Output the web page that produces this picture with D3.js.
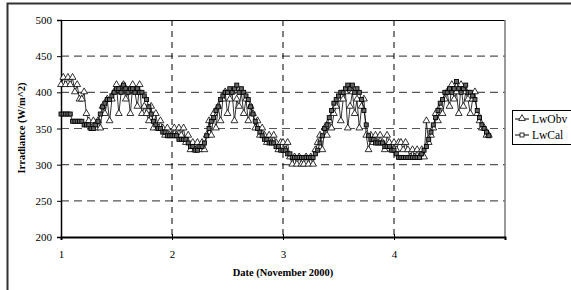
<!DOCTYPE html>
<html><head><meta charset="utf-8">
<script src="https://cdn.jsdelivr.net/npm/d3@7"></script>
<style>body{margin:0;background:#fff}svg{display:block}</style>
</head><body>
<svg id="c" width="571" height="290"></svg>
<script>
// Sampling: readings every 30 minutes starting on day 1
const startDay = 1;
const samplesPerDay = 48;
const seriesNames = ["LwObv", "LwCal"];
const xTicks = [1, 2, 3, 4];
const yTicks = [200, 250, 300, 350, 400, 450, 500];
const lwObv = [
 410,420,410,420,410,420,400,410, 390,390,400,370, 360,350,360,350,360,350, 380,370,390,360,390,400,
 410,370,400,410,390,400,370,410,400,380,410,370, 380,370,360,380,350,370, 350,360,350,340,350,340,
 340,350,340,350,340,350,330,340, 320,330,320,330,320,330,320, 340,360,340,370,350,380,360,390,
 400,370,390,400,360,390,380,400,370,390,360,380, 370,350,360,340,350,340, 330,340,330,340,330,320,330,
 330,320,330,310, 300,310,300,310,300,300,310,300,310,300,320, 330,340,320,350,340,360,350,370,380,
 390,360,390,400,350,380,400,370,390,350,380,390, 340,320,340,330, 340,330,340,330,320,340,330,320,
 330,320,330,330,320,330,320,310, 320,310,320,310,320,310,360,330, 340,350,370,360,380,370,390,400,
 380,410,390,400,370,410,380,400,390,370,390,400, 370,360,350,350,340,340
];
const lwCal = [
 370,370,370,370,370,360,360,360, 360,360,355,355, 355,350,350,355,360,370, 380,385,390,390,395,400,
 405,405,400,410,405,400,405,405,400,405,400,400, 395,390,380,370,360,355, 350,350,345,345,340,340,
 340,340,340,335,335,335,335,330, 325,325,320,320,325,325,330, 340,350,360,365,375,380,390,395,
 400,400,405,400,405,410,400,405,400,395,390,380, 370,360,350,345,340,335, 335,330,330,330,325,325,320,
 320,320,315,315, 310,310,310,310,310,310,310,310,310,310,315, 320,330,340,350,355,365,375,385,390,
 395,400,400,405,410,405,410,400,405,400,390,375, 355,340,335,335, 330,330,330,330,325,325,325,320,
 320,315,310,310,310,310,310,310, 310,310,310,310,315,320,325,335, 345,355,365,375,385,390,400,400,
 405,400,405,415,405,400,405,410,400,400,395,390, 375,365,355,350,345,340
];

const svg = d3.select("#c");
const font = "Liberation Serif, Times New Roman, serif";
const M = {l: 61, r: 505, t: 20, b: 237};

// outer chart frame
svg.append("rect").attr("x", 7.5).attr("y", 3.5).attr("width", 600).attr("height", 320)
  .attr("fill", "#fff").attr("stroke", "#333").attr("stroke-width", 2);

const x = d3.scaleLinear().domain([1, 5]).range([M.l, M.r]);
const y = d3.scaleLinear().domain([200, 500]).range([M.b, M.t]);

// gridlines
svg.append("g").selectAll("line").data(yTicks.filter(v => v > 200 && v < 500)).join("line")
  .attr("x1", M.l).attr("x2", M.r).attr("y1", d => y(d)).attr("y2", d => y(d))
  .attr("stroke", "#555").attr("stroke-width", 1.2).attr("stroke-dasharray", "8,5");
svg.append("g").selectAll("line").data(xTicks.filter(v => v > 1)).join("line")
  .attr("x1", d => x(d)).attr("x2", d => x(d)).attr("y1", M.t).attr("y2", M.b)
  .attr("stroke", "#000").attr("stroke-width", 1).attr("stroke-dasharray", "6,5");

// plot border
svg.append("line").attr("x1", M.l).attr("x2", M.r).attr("y1", M.t + .5).attr("y2", M.t + .5).attr("stroke", "#000");
svg.append("line").attr("x1", M.r).attr("x2", M.r).attr("y1", M.t).attr("y2", M.b).attr("stroke", "#777").attr("stroke-width", 1.5);

// axes
const yAxis = svg.append("g").attr("transform", `translate(${M.l},0)`)
  .call(d3.axisLeft(y).tickValues(yTicks).tickSize(4).tickPadding(5).tickFormat(d3.format("d")));
yAxis.select(".domain").attr("stroke-width", 1.5);
const xAxis = svg.append("g").attr("transform", `translate(0,${M.b})`)
  .call(d3.axisBottom(x).tickValues(xTicks).tickSize(3).tickPadding(10).tickFormat(d3.format("d")));
xAxis.select(".domain").attr("stroke-width", 2);
xAxis.selectAll(".tick line").attr("y1", -3);
svg.selectAll(".tick text").attr("font-family", font).attr("font-size", 11).attr("fill", "#000");

// titles
svg.append("text").attr("x", 283).attr("y", 276).attr("text-anchor", "middle")
  .attr("font-family", font).attr("font-weight", "bold").attr("font-size", 10.5).text("Date (November 2000)");
svg.append("text").attr("transform", "translate(25,128) rotate(-90)").attr("text-anchor", "middle")
  .attr("font-family", font).attr("font-weight", "bold").attr("font-size", 10.5).text("Irradiance (W/m^2)");

// series
const toPts = arr => arr.map((v, i) => ({t: startDay + i / samplesPerDay, v}));
const line = d3.line().x(d => x(d.t)).y(d => y(d.v));
const tri = d3.symbol().type(d3.symbolTriangle).size(20);

function drawSeries(arr, kind) {
  const pts = toPts(arr);
  const g = svg.append("g");
  g.append("path").attr("d", line(pts)).attr("fill", "none").attr("stroke", "#000").attr("stroke-width", 0.8);
  if (kind === "tri") {
    g.selectAll("path.m").data(pts).join("path").attr("class", "m")
      .attr("d", tri).attr("transform", d => `translate(${x(d.t)},${y(d.v) - 0.5})`)
      .attr("fill", "#fff").attr("stroke", "#000").attr("stroke-width", 0.8);
  } else {
    g.selectAll("rect.m").data(pts).join("rect").attr("class", "m")
      .attr("x", d => x(d.t) - 2).attr("y", d => y(d.v) - 2).attr("width", 4).attr("height", 4)
      .attr("fill", "#666").attr("stroke", "#000").attr("stroke-width", 0.9);
  }
}
drawSeries(lwObv, "tri");
drawSeries(lwCal, "sq");

// legend
const lg = svg.append("g");
lg.append("rect").attr("x", 512.5).attr("y", 110.5).attr("width", 70).attr("height", 34)
  .attr("fill", "#fff").attr("stroke", "#000").attr("stroke-width", 1);
seriesNames.forEach((name, i) => {
  const yy = 119 + i * 16;
  lg.append("line").attr("x1", 515).attr("x2", 529).attr("y1", yy).attr("y2", yy).attr("stroke", "#000");
  if (i === 0) {
    lg.append("path").attr("d", tri).attr("transform", `translate(522,${yy - 0.5})`)
      .attr("fill", "#fff").attr("stroke", "#000").attr("stroke-width", 0.8);
  } else {
    lg.append("rect").attr("x", 520).attr("y", yy - 2).attr("width", 4).attr("height", 4)
      .attr("fill", "#fff").attr("stroke", "#000").attr("stroke-width", 0.8);
  }
  lg.append("text").attr("x", 532).attr("y", yy + 3.5).attr("font-family", font).attr("font-size", 11.5).text(name);
});
</script>
</body></html>
